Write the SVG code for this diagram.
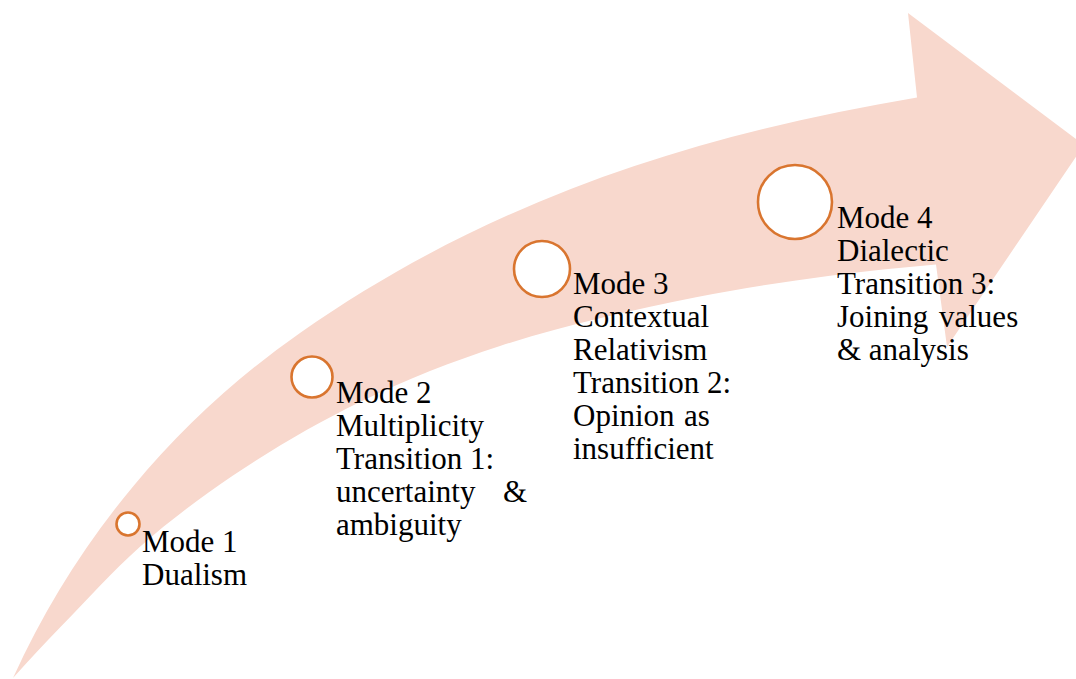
<svg xmlns="http://www.w3.org/2000/svg" width="1076" height="679" viewBox="0 0 1076 679">
<style>
.arrow{fill:#F8D8CD;stroke:none}
.dot{fill:#FFFFFF;stroke:#D9752F;stroke-width:2.6}
.lbl{font-family:"Liberation Serif","Times New Roman",serif;font-size:31px;fill:#000000}
</style>
<rect width="1076" height="679" fill="#FFFFFF"/>
<g id="arrow">
<path class="arrow" d="M13,678 A848,848 0 0 1 300,333 C492.5,198 700,134 917,97.5 L908,13 L1084,145 L947,347 L936,264.5 C900.7,267.7 865.3,271.1 830,275.8 C785.3,281.7 740.7,288.3 696,297.2 C630.7,310.3 565.3,324.8 500,346 C453.3,361.2 406.7,379.1 360,402 C317.7,422.7 275.3,447.1 233,475.6 C202,496.5 171,519.3 140,546.8 C113.3,570.5 86.7,600.1 60,627.6 C44.3,643.7 28.7,660.5 13,678 Z"/>
</g>
<g id="connectors"></g>
<g id="mode1">
<circle class="dot" cx="128" cy="524" r="11.5"/>
<text class="lbl"><tspan x="142" y="551.5">Mode 1</tspan><tspan x="142" y="584.5">Dualism</tspan></text>
</g>
<g id="mode2">
<circle class="dot" cx="312" cy="377" r="20.5"/>
<text class="lbl"><tspan x="336" y="403">Mode 2</tspan><tspan x="336" y="436">Multiplicity</tspan><tspan x="336" y="469">Transition 1:</tspan><tspan x="336" y="502">uncertainty</tspan><tspan x="503" y="502">&amp;</tspan><tspan x="336" y="535">ambiguity</tspan></text>
</g>
<g id="mode3">
<circle class="dot" cx="542" cy="269" r="28"/>
<text class="lbl"><tspan x="573" y="294">Mode 3</tspan><tspan x="573" y="327">Contextual</tspan><tspan x="573" y="360">Relativism</tspan><tspan x="573" y="393">Transition 2:</tspan><tspan x="573" y="426">Opinion</tspan><tspan x="684" y="426">as</tspan><tspan x="573" y="459">insufficient</tspan></text>
</g>
<g id="mode4">
<circle class="dot" cx="795" cy="202" r="37"/>
<text class="lbl"><tspan x="837" y="228">Mode 4</tspan><tspan x="837" y="261">Dialectic</tspan><tspan x="837" y="294">Transition 3:</tspan><tspan x="837" y="327">Joining</tspan><tspan x="939" y="327">values</tspan><tspan x="837" y="360">&amp; analysis</tspan></text>
</g>
</svg>
